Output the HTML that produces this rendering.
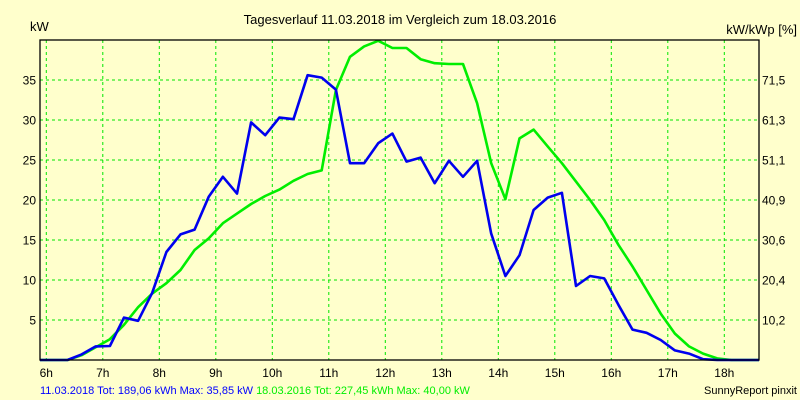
<!DOCTYPE html>
<html><head><meta charset="utf-8"><style>
html,body{margin:0;padding:0;background:#ffffcc;}
svg{display:block;font-family:"Liberation Sans",sans-serif;}
</style></head><body>
<svg id="chart" width="800" height="400" viewBox="0 0 800 400" xmlns="http://www.w3.org/2000/svg">
<rect x="0" y="0" width="800" height="400" fill="#ffffcc"/>
<text x="400" y="24" font-size="13" text-anchor="middle" fill="#000">Tagesverlauf 11.03.2018 im Vergleich zum 18.03.2016</text>
<text x="30" y="31" font-size="13" fill="#000">kW</text>
<text x="797" y="34" font-size="13" text-anchor="end" fill="#000">kW/kWp [%]</text>
<g id="grid"></g>
<g id="series"></g>
<rect x="40" y="40" width="719" height="320" fill="none" stroke="#000" stroke-width="1.3"/>
<g id="labels"></g>
<text x="40" y="394" font-size="11" fill="#0000ff">11.03.2018 Tot: 189,06 kWh Max: 35,85 kW <tspan fill="#00ee00">18.03.2016 Tot: 227,45 kWh Max: 40,00 kW</tspan></text>
<text x="797" y="394" font-size="11" text-anchor="end" fill="#000">SunnyReport pinxit</text>
</svg>
<script>
const hourTicks = [6,7,8,9,10,11,12,13,14,15,16,17,18];
const kwTicks = [5,10,15,20,25,30,35];
const pctTicks = ["10,2","20,4","30,6","40,9","51,1","61,3","71,5"];
const times = [5.875,6.125,6.375,6.625,6.875,7.125,7.375,7.625,7.875,8.125,8.375,8.625,8.875,9.125,9.375,9.625,9.875,10.125,10.375,10.625,10.875,11.125,11.375,11.625,11.875,12.125,12.375,12.625,12.875,13.125,13.375,13.625,13.875,14.125,14.375,14.625,14.875,15.125,15.375,15.625,15.875,16.125,16.375,16.625,16.875,17.125,17.375,17.625,17.875,18.125,18.375,18.625];
const series2018 = [0,0,0,0.7,1.7,1.75,5.3,4.9,8.4,13.5,15.7,16.3,20.4,22.9,20.8,29.7,28.1,30.3,30.1,35.6,35.3,33.8,24.6,24.6,27.1,28.3,24.8,25.3,22.1,24.9,22.9,24.9,15.8,10.5,13.1,18.75,20.3,20.9,9.25,10.5,10.2,6.9,3.8,3.4,2.5,1.2,0.8,0.1,0,0,0,0];
const series2016 = [0,0,0,0.6,1.6,2.6,4.4,6.6,8.3,9.6,11.25,13.75,15.2,17.1,18.3,19.5,20.5,21.3,22.4,23.25,23.7,33.75,37.9,39.2,39.9,39.0,39.0,37.6,37.1,37.0,37.0,32.1,24.6,20.1,27.7,28.8,26.7,24.6,22.3,20.0,17.5,14.4,11.7,8.75,5.8,3.3,1.7,0.8,0.2,0,0,0];

const NS = "http://www.w3.org/2000/svg";
const X = h => 46.3 + (h - 6) * 56.5;
const Y = v => 360 - v * 8;
const clampX = x => Math.max(40, Math.min(759, x));
const grid = document.getElementById('grid');
const labels = document.getElementById('labels');
const seriesG = document.getElementById('series');
function mk(tag, attrs, parent) {
  const e = document.createElementNS(NS, tag);
  for (const k in attrs) e.setAttribute(k, attrs[k]);
  parent.appendChild(e);
  return e;
}
hourTicks.forEach(h => {
  const x = X(h);
  const l = mk('line', {x1:x, y1:40, x2:x, y2:360, stroke:'#00e600', 'stroke-width':1, 'stroke-dasharray':'3,3'}, grid);
  
  
  const t = mk('text', {x:x, y:377, 'font-size':12, 'text-anchor':'middle', fill:'#000'}, labels);
  t.textContent = h + 'h';
  
  
});
kwTicks.forEach((v, i) => {
  const y = Y(v);
  const l = mk('line', {x1:40, y1:y, x2:759, y2:y, stroke:'#00e600', 'stroke-width':1, 'stroke-dasharray':'3,3'}, grid);
  
  
  const t = mk('text', {x:36, y:y + 4.5, 'font-size':12, 'text-anchor':'end', fill:'#000'}, labels);
  t.textContent = v;
  
  
  const r = mk('text', {x:762, y:y + 4.5, 'font-size':12, fill:'#000'}, labels);
  r.textContent = pctTicks[i];
  
  
});
function drawLine(vals, color, name) {
  const pts = times.map((t, i) => clampX(X(t)).toFixed(1) + ',' + Y(vals[i]).toFixed(1)).join(' ');
  const p = mk('polyline', {points:pts, fill:'none', stroke:color, 'stroke-width':2.6, 'stroke-linejoin':'round'}, seriesG);
  
  
}
drawLine(series2016, '#00ee00', 'line-2016');
drawLine(series2018, '#0000ee', 'line-2018');
</script>
</body></html>
